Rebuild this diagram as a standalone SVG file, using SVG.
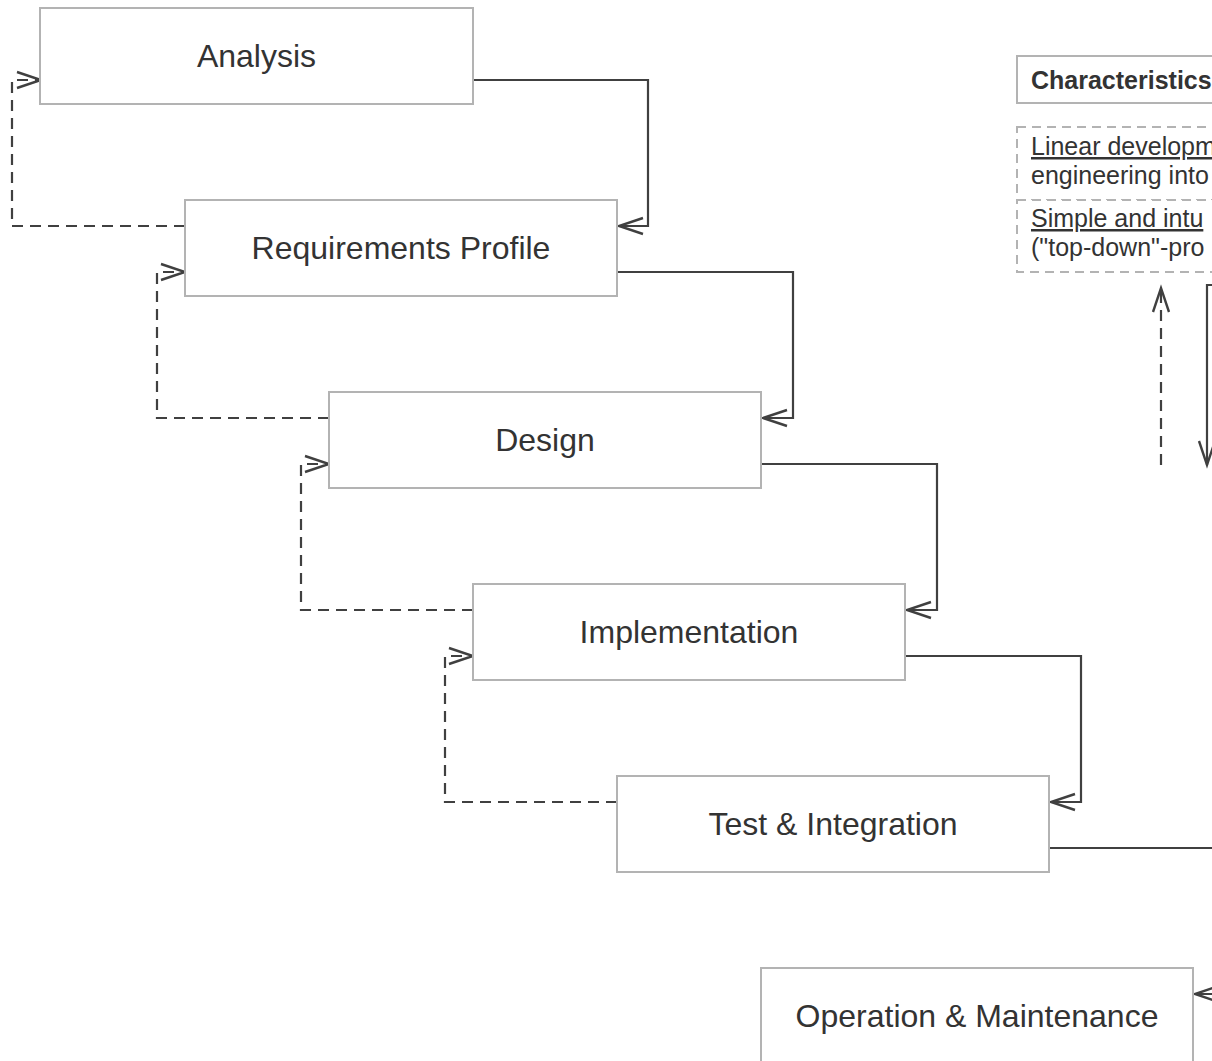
<svg xmlns="http://www.w3.org/2000/svg" width="1212" height="1061" viewBox="0 0 1212 1061">
<defs>
<marker id="arr" markerUnits="userSpaceOnUse" markerWidth="30" markerHeight="20" viewBox="-26 -10 30 20" refX="0" refY="0" orient="auto">
<path d="M-24,-8 L0,0 L-24,8" fill="none" stroke="#404040" stroke-width="2.4" stroke-dasharray="none"/>
</marker>
</defs>
<style>
.box{fill:#fff;stroke:#b3b3b3;stroke-width:2}
.lbl{font-family:"Liberation Sans",Arial,sans-serif;font-size:32px;fill:#333;text-anchor:middle}
.solid{fill:none;stroke:#404040;stroke-width:2.2}
.end{marker-end:url(#arr)}
.dash{fill:none;stroke:#404040;stroke-width:2.2;stroke-dasharray:11 7;marker-end:url(#arr)}
.note{fill:#fff;stroke:#b3b3b3;stroke-width:2;stroke-dasharray:9 6}
.nt{font-family:"Liberation Sans",Arial,sans-serif;font-size:25px;fill:#333}
</style>
<g id="connectors">
<path class="solid end" d="M473,80 H648 V226 H619"/>
<path class="solid end" d="M617,272 H793 V418 H763"/>
<path class="solid end" d="M761,464 H937 V610 H907"/>
<path class="solid end" d="M905,656 H1081 V802 H1051"/>
<path class="solid" d="M1049,848 H1230"/>
<path class="solid end" d="M1230,994 H1195"/>
<path class="dash" d="M185,226 H12 V80 H41"/>
<path class="dash" d="M329,418 H157 V272 H185"/>
<path class="dash" d="M473,610 H301 V464 H329"/>
<path class="dash" d="M617,802 H445 V656 H473"/>
<path class="dash" d="M1161,465 V288"/>
<path class="solid end" d="M1214,285 H1207 V465"/>
</g>
<g id="analysis"><rect class="box" x="40" y="8" width="433" height="96"/><text class="lbl" x="256.5" y="67">Analysis</text></g>
<g id="requirements"><rect class="box" x="185" y="200" width="432" height="96"/><text class="lbl" x="401" y="259">Requirements Profile</text></g>
<g id="design"><rect class="box" x="329" y="392" width="432" height="96"/><text class="lbl" x="545" y="451">Design</text></g>
<g id="implementation"><rect class="box" x="473" y="584" width="432" height="96"/><text class="lbl" x="689" y="643">Implementation</text></g>
<g id="test"><rect class="box" x="617" y="776" width="432" height="96"/><text class="lbl" x="833" y="835">Test &amp; Integration</text></g>
<g id="operation"><rect class="box" x="761" y="968" width="432" height="96"/><text class="lbl" x="977" y="1027">Operation &amp; Maintenance</text></g>
<g id="characteristics"><rect class="box" x="1017" y="56" width="260" height="47"/><text class="nt" x="1031" y="89" font-weight="bold" font-size="27" fill="#222">Characteristics</text></g>
<g id="note1"><rect class="note" x="1017" y="127" width="260" height="73"/>
<text class="nt" x="1031" y="155" text-decoration="underline">Linear developm</text>
<text class="nt" x="1031" y="184">engineering into</text></g>
<g id="note2"><rect class="note" x="1017" y="200" width="260" height="72"/>
<text class="nt" x="1031" y="227" text-decoration="underline">Simple and intu</text>
<text class="nt" x="1031" y="256">("top-down"-pro</text></g>
</svg>
